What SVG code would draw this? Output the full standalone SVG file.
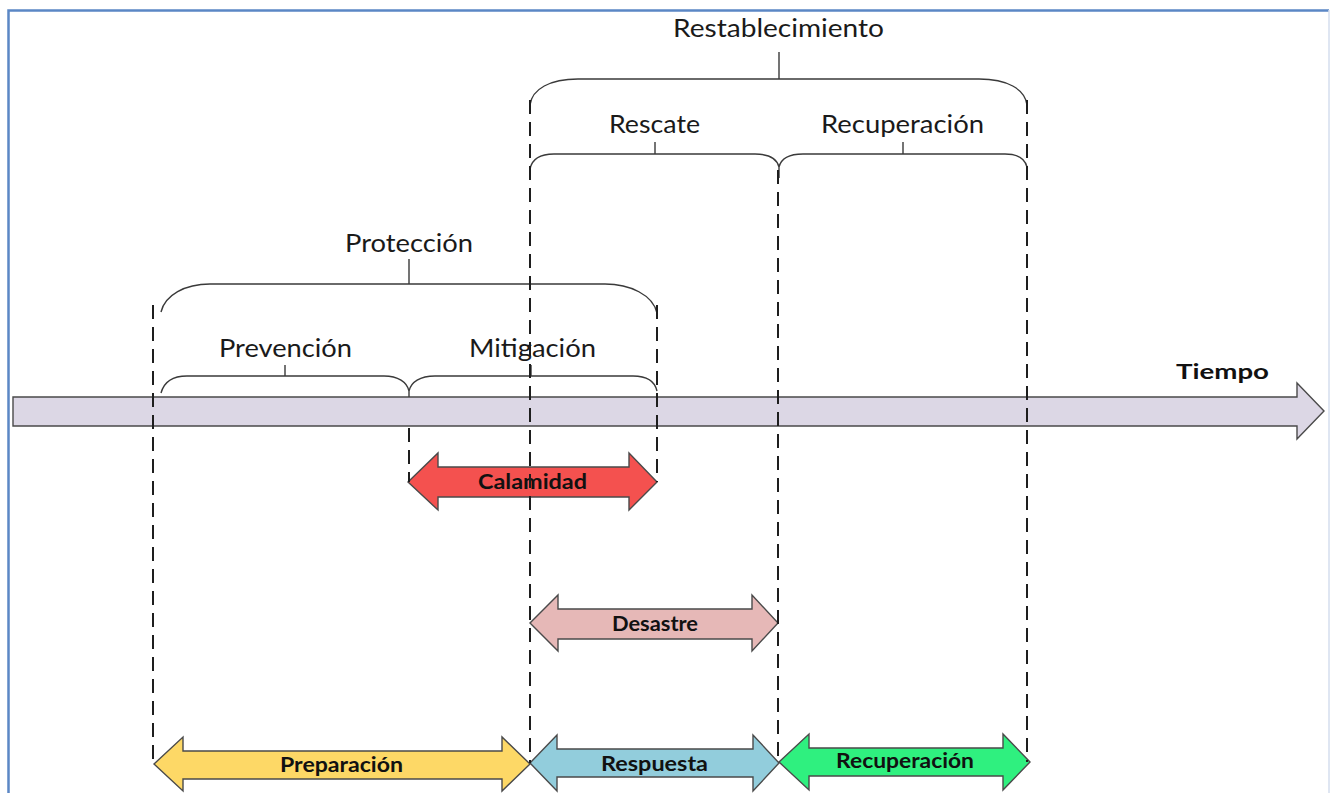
<svg xmlns="http://www.w3.org/2000/svg" width="1330" height="793" viewBox="0 0 1330 793">
  <style>
    .frame { fill: none; stroke: #5b87c5; stroke-width: 2.5; }
    .brace { fill: none; stroke: #3a3a3a; stroke-width: 1.4; }
    .guide { fill: none; stroke: #1e1e1e; stroke-width: 2; stroke-dasharray: 14 8; }
    .shaft { stroke: #4a4a4a; stroke-width: 1.4; stroke-linejoin: miter; }
    .lbl { font-family: Lato, "Liberation Sans", sans-serif; font-size: 25px; fill: #1a1a1a; }
    .blbl { font-family: Lato, "Liberation Sans", sans-serif; font-size: 21px; font-weight: bold; fill: #111; }
  </style>

  <rect width="1330" height="793" fill="#ffffff"/>
  <!-- page frame -->
  <path class="frame" d="M8.5,793 V10.5 H1329"/>
  <path d="M1329,10 V793" fill="none" stroke="#d4deee" stroke-width="1.5"/>

  <!-- time axis -->
  <g id="time-axis">
    <polygon class="shaft" fill="#dcd7e5" points="13,397 1297,397 1297,383 1324,411 1297,439 1297,426 13,426"/>
    <text class="blbl" x="1176" y="379" font-size="25" textLength="93" lengthAdjust="spacingAndGlyphs">Tiempo</text>
  </g>

  <!-- phase braces -->
  <g id="restablecimiento">
    <path class="brace" d="M530,105 C532,89 550,79 578,79 L979,79 C1007,79 1025,89 1027,105 M779,52 V79"/>
    <text class="lbl" x="673" y="37" textLength="211" lengthAdjust="spacingAndGlyphs">Restablecimiento</text>
  </g>
  <g id="rescate-recuperacion">
    <path class="brace" d="M530,169 C532,159 540,154 554,154 L755,154 C769,154 777,159 779,167 C781,159 789,154 803,154 L1005,154 C1019,154 1025,159 1027,167 M779,167 V178 M655,142 V154 M903,142 V154"/>
    <text class="lbl" x="609" y="133" textLength="91" lengthAdjust="spacingAndGlyphs">Rescate</text>
    <text class="lbl" x="821" y="133" textLength="163" lengthAdjust="spacingAndGlyphs">Recuperación</text>
  </g>
  <g id="proteccion">
    <path class="brace" d="M161,312 C165,295 185,284 210,284 L605,284 C630,284 653,295 657,313 M409,259 V284"/>
    <text class="lbl" x="345" y="252" textLength="128" lengthAdjust="spacingAndGlyphs">Protección</text>
  </g>
  <g id="prevencion-mitigacion">
    <path class="brace" d="M161,393 C164,382 172,376 187,376 L384,376 C398,376 407,382 409,391 C411,382 420,376 435,376 L633,376 C647,376 655,382 657,391 M409,391 V397 M285,365 V376 M531,365 V376"/>
    <text class="lbl" x="219" y="357" textLength="133" lengthAdjust="spacingAndGlyphs">Prevención</text>
    <text class="lbl" x="469" y="357" textLength="127" lengthAdjust="spacingAndGlyphs">Mitigación</text>
  </g>

  <!-- span arrows -->
  <g id="calamidad">
    <polygon class="shaft" fill="#f4514f" points="408,482 438,453 438,467 629,467 629,453 657,482 629,510 629,497 438,497 438,510"/>
    <text class="blbl" x="478" y="489" textLength="109" lengthAdjust="spacingAndGlyphs">Calamidad</text>
  </g>
  <g id="desastre">
    <polygon class="shaft" fill="#e6b8b7" points="530,623 558,595 558,609 752,609 752,595 778,623 752,651 752,639 558,639 558,651"/>
    <text class="blbl" x="612" y="631" textLength="86" lengthAdjust="spacingAndGlyphs">Desastre</text>
  </g>
  <g id="preparacion">
    <polygon class="shaft" fill="#fdd866" points="154,764 183,737 183,751 502,751 502,737 530,764 502,791 502,779 183,779 183,791"/>
    <text class="blbl" x="280" y="772" textLength="123" lengthAdjust="spacingAndGlyphs">Preparación</text>
  </g>
  <g id="respuesta">
    <polygon class="shaft" fill="#92cddc" points="530,763 557,735 557,749 753,749 753,735 779,763 753,791 753,777 557,777 557,791"/>
    <text class="blbl" x="601" y="771" textLength="107" lengthAdjust="spacingAndGlyphs">Respuesta</text>
  </g>
  <g id="recuperacion">
    <polygon class="shaft" fill="#2ff07f" points="779,762 809,734 809,748 1003,748 1003,734 1030,762 1003,790 1003,776 809,776 809,790"/>
    <text class="blbl" x="836" y="768" textLength="138" lengthAdjust="spacingAndGlyphs">Recuperación</text>
  </g>

  <!-- dashed phase boundaries -->
  <g id="connectors">
    <path class="guide" d="M153,305 V764"/>
    <path class="guide" d="M409,428 V482"/>
    <path class="guide" d="M530,100 V763"/>
    <path class="guide" d="M657,305 V482"/>
    <path class="guide" d="M778,170 V763"/>
    <path class="guide" d="M1027,100 V762"/>
  </g>
</svg>
